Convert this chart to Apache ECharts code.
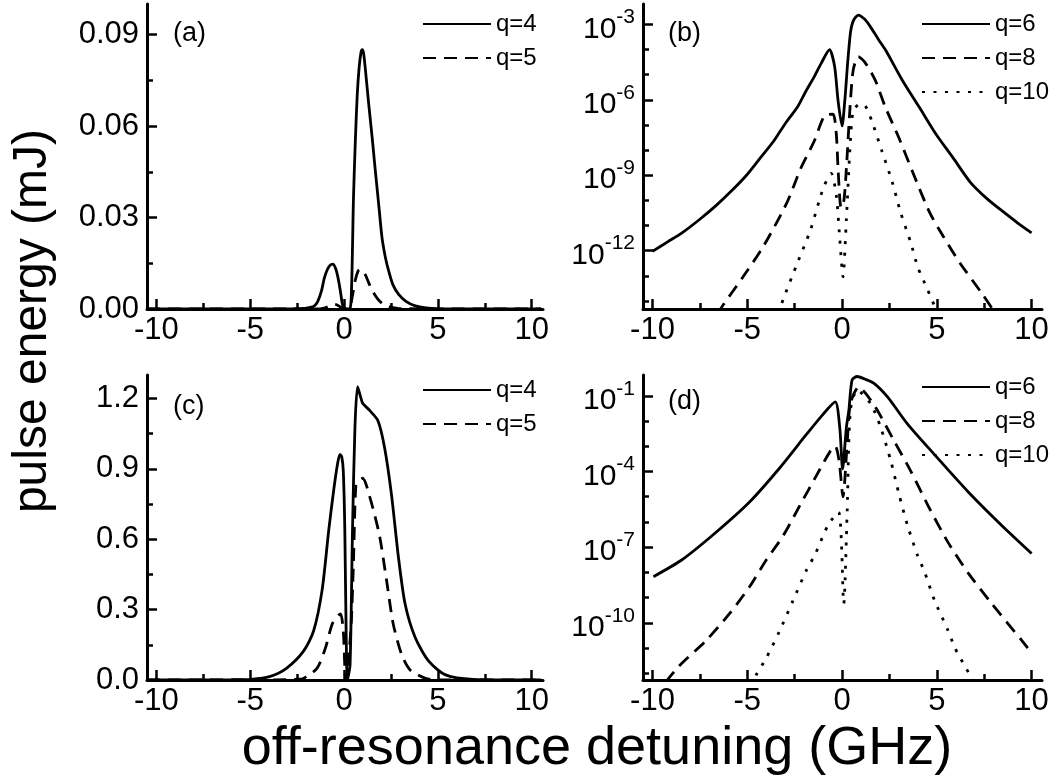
<!DOCTYPE html>
<html>
<head>
<meta charset="utf-8">
<script src="https://cdn.jsdelivr.net/npm/echarts@6/dist/echarts.min.js"></script>
<style>
  html, body { margin: 0; padding: 0; background: #fff; }
  #chart { width: 1061px; height: 783px; }
</style>
</head>
<body>
<div id="chart"></div>
<script>
// ---------- tick definitions ----------
const xMajorTicks = [-10, -5, 0, 5, 10];
const xMinorTicks = [-7.5, -2.5, 2.5, 7.5];
const aMajorTicks = [0, 0.03, 0.06, 0.09];
const aMinorTicks = [0.015, 0.045, 0.075];
const cMajorTicks = [0, 0.3, 0.6, 0.9, 1.2];
const cMinorTicks = [0.15, 0.45, 0.75, 1.05];
// log panels: decade exponents (value = 10^n mJ)
const bMajorDecades = [-12, -9, -6, -3];
const bMinorDecades = [-14, -13, -11, -10, -8, -7, -5, -4];
const dMajorDecades = [-10, -7, -4, -1];
const dMinorDecades = [-12, -11, -9, -8, -6, -5, -3, -2];

// ---------- panel (a): pulse energy (mJ), linear ----------
const a_q4_x = [-10.5,-5,-3,-2.5,-2,-1.6,-1.4,-1.2,-1.05,-0.9,-0.75,-0.6,-0.45,-0.32,-0.2,-0.1,0,0.3,0.4,0.5,0.6,0.7,0.8,0.9,0.97,1.05,1.2,1.3,1.5,1.66,1.85,2.02,2.2,2.38,2.6,2.92,3.3,3.8,4.5,5.5,10.5];
const a_q4_y = [0,0,0.00005,0.0001,0.0003,0.0009,0.0025,0.006,0.0102,0.0128,0.0143,0.0147,0.0133,0.0102,0.006,0.002,0.0002,0,0.007,0.036,0.055,0.070,0.079,0.084,0.085,0.0835,0.0745,0.068,0.056,0.0457,0.034,0.0235,0.017,0.0124,0.008,0.0047,0.0025,0.001,0.0003,0,0];
const a_q5_x = [-10.5,-1.5,-1,-0.7,-0.5,-0.3,-0.1,0.1,0.3,0.45,0.6,0.75,0.85,1.0,1.15,1.3,1.48,1.8,2.1,2.4,3.0,10.5];
const a_q5_y = [0,0,0.0004,0.0012,0.0015,0.0011,0.0003,0,0.0004,0.0045,0.0095,0.0125,0.013,0.0126,0.011,0.0088,0.0063,0.0032,0.0015,0.0008,0.0001,0];

// ---------- panel (c): pulse energy (mJ), linear ----------
const c_q4_x = [-10.5,-6,-4.96,-3.97,-3.07,-2.16,-1.62,-1.17,-0.81,-0.54,-0.35,-0.22,-0.12,-0.04,0.04,0.11,0.18,0.32,0.45,0.58,0.72,0.87,0.99,1.35,1.8,2.16,2.53,2.89,3.25,3.79,4.51,5.41,6.86,10.5];
const c_q4_y = [0,0.001,0.003,0.0145,0.05,0.123,0.21,0.383,0.643,0.817,0.92,0.962,0.95,0.89,0.64,0.21,0,0.065,0.64,1.077,1.25,1.21,1.18,1.15,1.106,0.99,0.788,0.528,0.325,0.181,0.08,0.022,0.003,0];
const c_q5_x = [-10.5,-3,-2.5,-2.16,-1.44,-0.99,-0.63,-0.3,-0.18,-0.04,0.09,0.36,0.5,0.63,0.8,0.99,1.44,1.89,2.26,2.62,3.07,3.52,4.33,5,10.5];
const c_q5_y = [0,0.001,0.003,0.007,0.05,0.137,0.239,0.275,0.282,0.21,0,0.21,0.5,0.83,0.85,0.86,0.76,0.615,0.427,0.239,0.108,0.043,0.007,0,0];

// ---------- panel (b): log10 of pulse energy (mJ) ----------
const b_q6_x = [-10,-9.2,-8.44,-7.5,-6.65,-5.8,-5.04,-4.3,-3.61,-3,-2.36,-1.9,-1.47,-1.1,-0.66,-0.39,-0.21,0,0.15,0.3,0.45,0.6,0.86,1.2,1.5,1.93,2.29,3.18,4.08,4.97,5.87,6.76,7.66,8.55,9.27,10];
const b_q6_log = [-12.03,-11.65,-11.29,-10.75,-10.21,-9.6,-9.0,-8.3,-7.65,-6.95,-6.3,-5.65,-5.09,-4.55,-4.01,-4.68,-6.03,-7.04,-6.0,-4.5,-3.3,-2.85,-2.63,-2.8,-3.1,-3.61,-4.01,-5.22,-6.3,-7.38,-8.32,-9.27,-9.94,-10.48,-10.9,-11.29];
const b_q8_x = [-6.57,-6.3,-5.22,-4.15,-2.9,-2.18,-1.47,-0.93,-0.48,-0.3,-0.21,-0.05,0.1,0.23,0.41,0.59,0.86,1.2,1.75,2.29,3.0,3.72,4.62,5.33,6.23,7.39,8.0];
const b_q8_log = [-14.52,-14.19,-13.04,-11.83,-10.08,-8.73,-7.65,-6.64,-6.57,-7.38,-8.73,-10.3,-10.0,-8.73,-6.44,-4.82,-4.28,-4.5,-5.22,-6.3,-7.51,-8.86,-10.48,-11.42,-12.5,-13.71,-14.39];
const b_q10_x = [-3.4,-3.26,-2.99,-2.36,-2.0,-1.65,-1.2,-0.93,-0.57,-0.3,-0.13,0.05,0.23,0.41,0.59,0.95,1.22,1.57,2.11,2.65,3.09,3.63,3.99,4.53,4.88,5.15];
const b_q10_log = [-14.5,-14.25,-13.71,-12.5,-11.83,-11.15,-10.01,-9.4,-8.93,-9.81,-11.42,-13.04,-10.75,-8.05,-6.44,-6.17,-6.23,-6.84,-8.05,-9.27,-10.48,-11.69,-12.64,-13.58,-14.19,-14.52];

// ---------- panel (d): log10 of pulse energy (mJ) ----------
const d_q6_x = [-9.95,-8.44,-6.66,-4.88,-3.29,-1.87,-0.98,-0.36,-0.12,0.03,0.23,0.36,0.53,0.8,1.2,1.69,2.4,3.46,4.88,6.66,8.44,10.0];
const d_q6_log = [-8.17,-7.5,-6.42,-5.21,-3.86,-2.52,-1.71,-1.24,-2.25,-3.9,-2.25,-1.58,-0.37,-0.23,-0.33,-0.5,-1.04,-2.12,-3.33,-4.81,-6.15,-7.25];
const d_q8_x = [-10,-8.61,-7.19,-5.95,-4.88,-3.99,-3.11,-2.22,-1.33,-0.62,-0.36,-0.15,0.05,0.27,0.44,0.89,1.3,1.87,2.75,3.64,4.53,5.6,6.66,7.9,9.5,10];
const d_q8_log = [-13.0,-11.73,-10.72,-9.65,-8.57,-7.5,-6.55,-5.34,-4.13,-3.19,-2.99,-3.6,-5.0,-2.92,-1.31,-0.64,-0.95,-1.58,-2.79,-4.0,-5.34,-6.82,-8.03,-9.24,-10.72,-11.2];
const d_q10_x = [-4.8,-4.53,-4.0,-3.29,-2.58,-1.87,-1.42,-0.71,-0.18,0.09,0.27,0.44,0.8,1.51,2.04,2.58,3.02,3.46,4.0,4.35,4.88,5.6,5.95,6.39,6.84,7.1];
const d_q10_log = [-12.5,-12.07,-11.4,-10.32,-9.11,-7.9,-7.29,-6.08,-5.61,-9.24,-5.61,-1.58,-0.77,-1.31,-2.25,-3.6,-4.94,-6.15,-7.36,-7.97,-9.11,-10.32,-10.99,-11.6,-12.2,-12.6];

// ---------- build ----------
const FONT = "'Liberation Sans', Arial, Helvetica, sans-serif";
const BLACK = '#000';
const zip = (xs, ys) => xs.map((x, i) => [x, ys[i]]);

const grids = [
  { left: 147, top: 4, width: 396, height: 305 },   // (a)
  { left: 643, top: 4, width: 399, height: 305 },   // (b)
  { left: 147, top: 375, width: 396, height: 305 }, // (c)
  { left: 643, top: 375, width: 399, height: 305 }  // (d)
];

function mainAxis(gi, min, max, ticks, formatter, rich, margin) {
  const ax = {
    type: 'value', gridIndex: gi, min: min, max: max,
    axisLine: { show: true, onZero: false, lineStyle: { color: BLACK, width: 3 } },
    axisTick: { show: true, inside: true, length: 10, customValues: ticks, lineStyle: { color: BLACK, width: 2.5 } },
    axisLabel: { show: true, customValues: ticks, color: BLACK, fontSize: 31, fontFamily: FONT, margin: margin, formatter: formatter },
    splitLine: { show: false }, minorTick: { show: false }
  };
  if (rich) ax.axisLabel.rich = rich;
  return ax;
}
function minorAxis(gi, min, max, ticks) {
  return {
    type: 'value', gridIndex: gi, min: min, max: max,
    axisLine: { show: false, onZero: false },
    axisTick: { show: true, inside: true, length: 6, customValues: ticks, lineStyle: { color: BLACK, width: 2.5 } },
    axisLabel: { show: false },
    splitLine: { show: false }
  };
}

const X_LEFT = [-10.5, 10.6];
const X_RIGHT = [-10.5, 10.55];
const xFmt = v => String(v);
const logRich = {
  b: { fontSize: 30, fontFamily: FONT, color: BLACK, padding: [10, 0, 0, 0] },
  s: { fontSize: 21, fontFamily: FONT, color: BLACK, padding: [0, 0, 14, 0] }
};
const logFmt = v => '{b|10}{s|' + v + '}';

const xAxes = [];
const yAxes = [];
[X_LEFT, X_RIGHT, X_LEFT, X_RIGHT].forEach((r, gi) => {
  const m = mainAxis(gi, r[0], r[1], xMajorTicks, xFmt, null, 6);
  m.position = 'bottom';
  const n = minorAxis(gi, r[0], r[1], xMinorTicks);
  n.position = 'bottom';
  xAxes.push(m, n);
});
const yDefs = [
  { r: [0, 0.1], major: aMajorTicks, minor: aMinorTicks, fmt: v => v.toFixed(2), rich: null },
  { r: [-14.32, -2.19], major: bMajorDecades, minor: bMinorDecades, fmt: logFmt, rich: logRich },
  { r: [0, 1.3], major: cMajorTicks, minor: cMinorTicks, fmt: v => v.toFixed(1), rich: null },
  { r: [-12.27, -0.17], major: dMajorDecades, minor: dMinorDecades, fmt: logFmt, rich: logRich }
];
yDefs.forEach((d, gi) => {
  const m = mainAxis(gi, d.r[0], d.r[1], d.major, d.fmt, d.rich, 8);
  m.position = 'left';
  const n = minorAxis(gi, d.r[0], d.r[1], d.minor);
  n.position = 'left';
  yAxes.push(m, n);
});

const STYLES = {
  solid: { color: BLACK, width: 2.8, type: 'solid' },
  dashed: { color: BLACK, width: 2.8, type: [13, 8] },
  dotted: { color: BLACK, width: 2.8, type: [3, 8.5] }
};
function line(name, gi, xs, ys, style) {
  return {
    type: 'line', name: name, xAxisIndex: 2 * gi, yAxisIndex: 2 * gi,
    data: zip(xs, ys), showSymbol: false, symbol: 'none',
    smooth: 0.25, clip: true,
    lineStyle: STYLES[style], itemStyle: { color: BLACK },
    emphasis: { disabled: true }, animation: false, z: 3
  };
}

const series = [
  line('q=4', 0, a_q4_x, a_q4_y, 'solid'),
  line('q=5', 0, a_q5_x, a_q5_y, 'dashed'),
  line('q=6', 1, b_q6_x, b_q6_log, 'solid'),
  line('q=8', 1, b_q8_x, b_q8_log, 'dashed'),
  line('q=10', 1, b_q10_x, b_q10_log, 'dotted'),
  line('q=4', 2, c_q4_x, c_q4_y, 'solid'),
  line('q=5', 2, c_q5_x, c_q5_y, 'dashed'),
  line('q=6', 3, d_q6_x, d_q6_log, 'solid'),
  line('q=8', 3, d_q8_x, d_q8_log, 'dashed'),
  line('q=10', 3, d_q10_x, d_q10_log, 'dotted')
];

function legend(left, top, names) {
  return {
    left: left, top: top, orient: 'vertical', selectedMode: false,
    itemWidth: 68, itemHeight: 14, itemGap: 10, padding: 0,
    data: names,
    itemStyle: { opacity: 0 },
    textStyle: { fontSize: 24, fontFamily: FONT, color: BLACK }
  };
}

function label(text, x, y) {
  return {
    type: 'text', x: x, y: y, silent: true,
    style: { text: text, fill: BLACK, fontSize: 27, fontFamily: FONT,
      textAlign: 'left', textVerticalAlign: 'middle', align: 'left', verticalAlign: 'middle' }
  };
}

const option = {
  animation: false,
  backgroundColor: '#fff',
  grid: grids,
  xAxis: xAxes,
  yAxis: yAxes,
  legend: [
    legend(422, 12, ['q=4', 'q=5']),
    legend(921, 12, ['q=6', 'q=8', 'q=10']),
    legend(422, 378, ['q=4', 'q=5']),
    legend(921, 375, ['q=6', 'q=8', 'q=10'])
  ],
  series: series,
  graphic: [
    label('(a)', 173, 34),
    label('(b)', 668, 34),
    label('(c)', 173, 407),
    label('(d)', 668, 402),
    { type: 'text', x: 33, y: 321, rotation: Math.PI / 2, silent: true,
      style: { text: 'pulse energy (mJ)', fill: BLACK, fontSize: 48, fontFamily: FONT,
        textAlign: 'center', textVerticalAlign: 'middle', align: 'center', verticalAlign: 'middle' } },
    { type: 'text', x: 597, y: 749, silent: true,
      style: { text: 'off-resonance detuning (GHz)', fill: BLACK, fontSize: 54, fontFamily: FONT,
        textAlign: 'center', textVerticalAlign: 'middle', align: 'center', verticalAlign: 'middle' } }
  ]
};

const chart = echarts.init(document.getElementById('chart'), null, { renderer: 'canvas' });
chart.setOption(option);
</script>
</body>
</html>
